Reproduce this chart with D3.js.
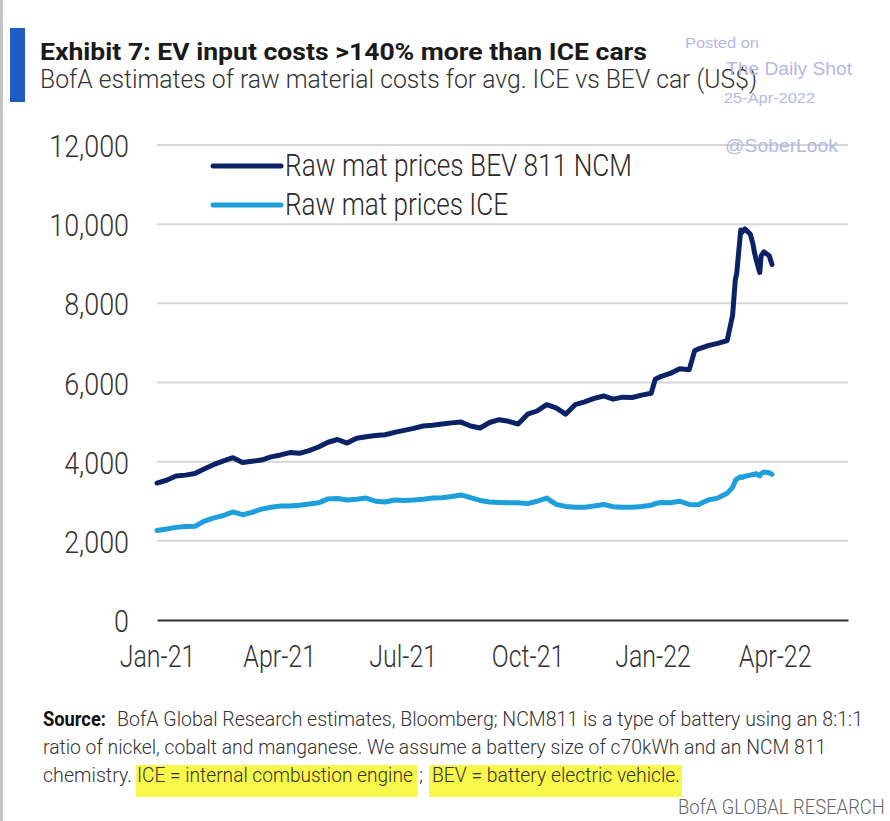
<!DOCTYPE html>
<html>
<head>
<meta charset="utf-8">
<script src="https://cdn.jsdelivr.net/npm/d3@7"></script>
<style>
  html, body { margin: 0; padding: 0; background: #ffffff; }
  svg { display: block; }
</style>
</head>
<body>
<svg id="chart" width="890" height="821"></svg>
<script>
// ---------------- DATA ----------------
const dates = [
  "2021-01-01","2021-01-08","2021-01-15","2021-01-22","2021-01-29","2021-02-05","2021-02-12","2021-02-19",
  "2021-02-26","2021-03-05","2021-03-12","2021-03-19","2021-03-26","2021-04-02","2021-04-09","2021-04-16",
  "2021-04-23","2021-04-30","2021-05-07","2021-05-14","2021-05-21","2021-05-28","2021-06-04","2021-06-11",
  "2021-06-18","2021-06-25","2021-07-02","2021-07-09","2021-07-16","2021-07-23","2021-07-30","2021-08-06",
  "2021-08-13","2021-08-20","2021-08-27","2021-09-03","2021-09-10","2021-09-17","2021-09-24","2021-10-01",
  "2021-10-08","2021-10-15","2021-10-22","2021-10-29","2021-11-05","2021-11-12","2021-11-19","2021-11-26",
  "2021-12-03","2021-12-10","2021-12-17","2021-12-24","2021-12-31","2022-01-03","2022-01-07","2022-01-14",
  "2022-01-21","2022-01-28","2022-02-01","2022-02-04","2022-02-11","2022-02-18","2022-02-25","2022-03-01",
  "2022-03-03","2022-03-04","2022-03-07","2022-03-08","2022-03-10","2022-03-14","2022-03-16","2022-03-17",
  "2022-03-18","2022-03-21","2022-03-22","2022-03-24","2022-03-28","2022-03-30"
];
const bevValues = [
  3460,3530,3640,3660,3700,3820,3930,4020,
  4100,3980,4010,4040,4120,4170,4230,4210,
  4280,4370,4490,4560,4470,4590,4630,4660,
  4680,4740,4790,4840,4900,4920,4950,4980,
  5000,4900,4850,4990,5060,5020,4950,5200,
  5280,5440,5360,5200,5440,5510,5600,5660,
  5580,5630,5620,5680,5730,6080,6150,6230,
  6350,6320,6800,6850,6930,6990,7060,7700,
  8600,8750,9850,9800,9880,9750,9500,9300,
  9150,8780,9200,9300,9200,8980
];
const iceValues = [
  2260,2300,2340,2360,2370,2500,2580,2640,
  2730,2660,2720,2800,2850,2880,2880,2900,
  2930,2960,3060,3070,3030,3050,3080,3000,
  2980,3030,3020,3030,3050,3080,3090,3120,
  3160,3090,3020,2980,2970,2960,2960,2940,
  3000,3080,2920,2870,2850,2850,2880,2920,
  2860,2850,2850,2870,2900,2940,2970,2960,
  3000,2920,2910,2920,3030,3080,3200,3350,
  3520,3560,3620,3600,3630,3660,3680,3670,
  3700,3640,3700,3740,3720,3680
];
const seriesNames = ["Raw mat prices BEV 811 NCM", "Raw mat prices ICE"];
const seriesColors = ["#0c2266", "#1c9fdb"];
const xTickLabels = ["Jan-21","Apr-21","Jul-21","Oct-21","Jan-22","Apr-22"];
const yTickValues = [0, 2000, 4000, 6000, 8000, 10000, 12000];
const xDomain = ["2021-01-01", "2022-05-25"];

const titleText = "Exhibit 7: EV input costs >140% more than ICE cars";
const subtitleText = "BofA estimates of raw material costs for avg. ICE vs BEV car (US$)";
const sourceLabel = "Source:";
const footLine1 = "BofA Global Research estimates, Bloomberg; NCM811  is a type of battery using an 8:1:1";
const footLine2 = "ratio of nickel, cobalt and manganese.  We assume a battery size of c70kWh and an NCM  811";
const footLine3 = ["chemistry.", "ICE = internal combustion engine", ";", "BEV = battery electric vehicle."];
const brandText = "BofA GLOBAL RESEARCH";
const watermark = ["Posted on", "The Daily Shot", "25-Apr-2022", "@SoberLook"];

// ---------------- HELPERS ----------------
const FONT = 'Roboto, "Liberation Sans", sans-serif';
function fitWidth(sel, width) {
  sel.attr("textLength", width).attr("lengthAdjust", "spacingAndGlyphs");
}
// horizontally scale a start-anchored text to an exact width (real bbox shrinks too)
function squeezeTo(sel, width) {
  sel.each(function () {
    const el = d3.select(this);
    const x0 = +el.attr("x"), y0 = +el.attr("y");
    const w = this.getComputedTextLength();
    el.attr("x", 0).attr("y", 0)
      .attr("transform", `translate(${x0},${y0}) scale(${width / w},1)`);
  });
}
function condense(sel, factor) {
  sel.each(function () {
    const w = this.getComputedTextLength();
    d3.select(this).attr("textLength", w * factor).attr("lengthAdjust", "spacingAndGlyphs");
  });
}

// ---------------- DRAW ----------------
const svg = d3.select("#chart");
const parse = d3.timeParse("%Y-%m-%d");
const parseTick = d3.timeParse("%b-%y");

svg.append("rect").attr("width", 890).attr("height", 821).attr("fill", "#fff");
svg.append("rect").attr("x", 0).attr("y", 0).attr("width", 3).attr("height", 821).attr("fill", "#c4c4c4");

// title block
svg.append("rect").attr("x", 10).attr("y", 28).attr("width", 15).attr("height", 74).attr("fill", "#1f5bc6");
svg.append("text").attr("x", 40).attr("y", 60).attr("font-family", FONT).attr("font-weight", "bold")
  .attr("font-size", 23).attr("fill", "#1a1a1a").text(titleText).call(fitWidth, 607);
svg.append("text").attr("x", 40).attr("y", 88).attr("font-family", FONT).attr("font-weight", 300)
  .attr("font-size", 25).attr("fill", "#333").text(subtitleText).call(fitWidth, 717);

// scales
const x = d3.scaleTime().domain(xDomain.map(parse)).range([157, 848]);
const y = d3.scaleLinear().domain([0, 12000]).range([620, 145]);

// gridlines
svg.append("g").selectAll("line").data(yTickValues.filter(v => v > 0)).join("line")
  .attr("x1", x.range()[0]).attr("x2", x.range()[1])
  .attr("y1", d => y(d)).attr("y2", d => y(d))
  .attr("stroke", "#d6d6d6").attr("stroke-width", 2);

// y axis labels
const yAxis = d3.axisLeft(y).tickValues(yTickValues).tickFormat(d3.format(",")).tickSize(0).tickPadding(0);
const gy = svg.append("g").attr("transform", "translate(129,0)").call(yAxis);
gy.select(".domain").remove();
gy.selectAll("text").attr("font-family", FONT).attr("font-weight", 300).attr("font-size", 32)
  .attr("fill", "#333").attr("dy", "0.36em").call(condense, 0.84);

// x axis
const xAxis = d3.axisBottom(x).tickValues(xTickLabels.map(parseTick)).tickFormat(d3.timeFormat("%b-%y")).tickSize(0).tickPadding(0);
const gx = svg.append("g").attr("transform", "translate(0,620)").call(xAxis);
gx.select(".domain").attr("stroke", "#333").attr("stroke-width", 2);
gx.selectAll("text").attr("font-family", FONT).attr("font-weight", 300).attr("font-size", 32)
  .attr("fill", "#333").attr("y", 47).attr("dy", 0).call(condense, 0.78);

// lines
const series = [bevValues, iceValues];
const line = d3.line().x((d, i) => x(parse(dates[i]))).y(d => y(d));
[1, 0].forEach(idx => {
  svg.append("path").datum(series[idx]).attr("d", line)
    .attr("fill", "none").attr("stroke", seriesColors[idx]).attr("stroke-width", 5)
    .attr("stroke-linejoin", "round").attr("stroke-linecap", "round");
});

// legend
const legendWidths = [347, 223];
seriesNames.forEach((name, i) => {
  const ly = 166 + i * 39;
  svg.append("line").attr("x1", 213).attr("x2", 281).attr("y1", ly).attr("y2", ly)
    .attr("stroke", seriesColors[i]).attr("stroke-width", 5).attr("stroke-linecap", "round");
  svg.append("text").attr("x", 285).attr("y", ly + 10)
    .attr("font-family", FONT).attr("font-weight", 300).attr("font-size", 31).attr("fill", "#2a2a2a")
    .text(name).call(fitWidth, legendWidths[i]);
});

// watermark
const wm = svg.append("g").attr("font-family", '"Liberation Sans", Arial, sans-serif').attr("fill", "#b3b9e2");
wm.append("text").attr("x", 685).attr("y", 48).attr("font-size", 14).text(watermark[0]).call(fitWidth, 74);
wm.append("text").attr("x", 726).attr("y", 75).attr("font-size", 19).text(watermark[1]).call(fitWidth, 126);
wm.append("text").attr("x", 724).attr("y", 103).attr("font-size", 15).text(watermark[2]).call(fitWidth, 91);
wm.append("text").attr("x", 725).attr("y", 152).attr("font-size", 19).text(watermark[3]).call(fitWidth, 113);

// footer
const fs = 20;
svg.append("rect").attr("x", 136).attr("y", 765).attr("width", 281).attr("height", 32).attr("fill", "#f8f84a");
svg.append("rect").attr("x", 429).attr("y", 765).attr("width", 253).attr("height", 32).attr("fill", "#f8f84a");

svg.append("text").attr("x", 43).attr("y", 726).attr("font-family", FONT).attr("font-weight", "bold")
  .attr("font-size", fs).attr("fill", "#111").text(sourceLabel).call(squeezeTo, 63);
svg.append("text").attr("x", 117).attr("y", 726).attr("font-family", FONT).attr("font-weight", 300)
  .attr("font-size", fs).attr("fill", "#333").text(footLine1).call(squeezeTo, 746);
svg.append("text").attr("x", 43).attr("y", 754).attr("font-family", FONT).attr("font-weight", 300)
  .attr("font-size", fs).attr("fill", "#333").text(footLine2).call(squeezeTo, 784);
const seg3 = [[43, 89], [137, 276], [419, 4], [432, 248]];
footLine3.forEach((t, i) => {
  svg.append("text").attr("x", seg3[i][0]).attr("y", 782).attr("font-family", FONT).attr("font-weight", 300)
    .attr("font-size", fs).attr("fill", "#333").text(t).call(squeezeTo, seg3[i][1]);
});

svg.append("text").attr("x", 678).attr("y", 814).attr("font-family", FONT)
  .attr("font-weight", 300).attr("font-size", 21).attr("fill", "#666").text(brandText).call(squeezeTo, 207);
</script>
</body>
</html>
